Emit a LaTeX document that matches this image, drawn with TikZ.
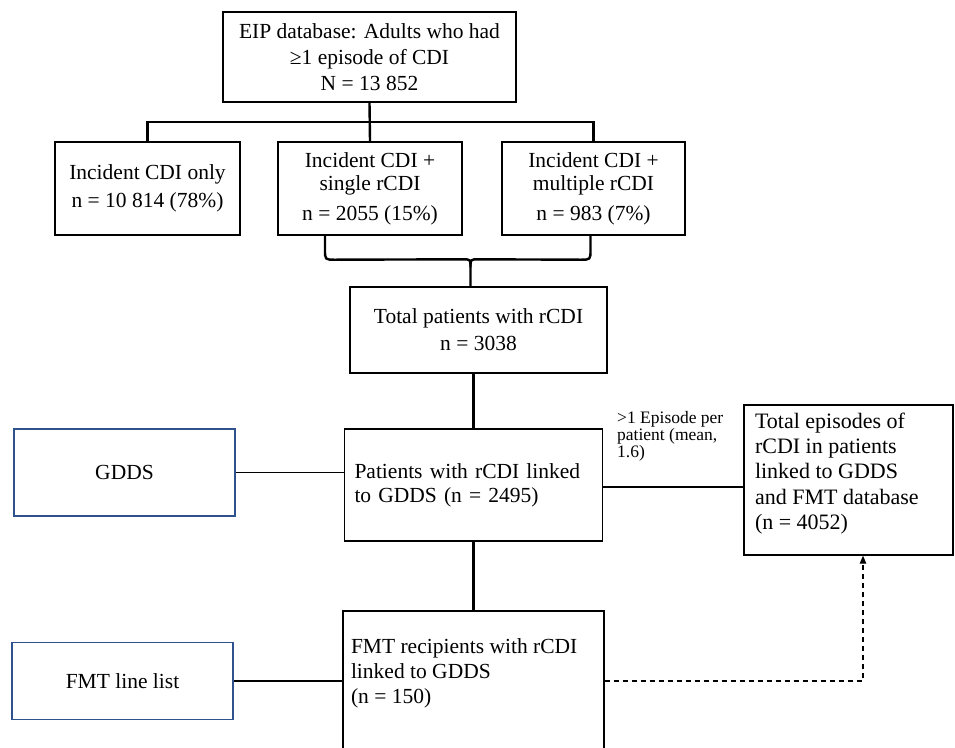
\documentclass[tikz,border=0pt]{standalone}
\usepackage{fontspec}
\setmainfont{Liberation Serif}
\usetikzlibrary{arrows.meta,calc}
\definecolor{srcblue}{RGB}{47,82,143}
\begin{document}
\begin{tikzpicture}[x=1pt,y=-1pt,
        box/.style={draw,line width=1.4pt,inner sep=0pt,align=center,font=\fontsize{21.5}{25}\selectfont},
        srcbox/.style={box,draw=srcblue,line width=1.1pt},
        link/.style={line width=2.4pt},
        thinlink/.style={line width=1.2pt}]
    \useasboundingbox (0,0) rectangle (955,747);
    \node [box,minimum width=293pt,minimum height=90pt,font=\fontsize{21.5}{26}\selectfont] (eip) at (369.5,57) {EIP database: Adults who had\\≥1 episode of CDI\\N = 13 852};
    \node [box,minimum width=185pt,minimum height=93pt,font=\fontsize{21.5}{28}\selectfont] (inc) at (147.5,188.5) {Incident CDI only\\n = 10 814 (78\%)};
    \node [box,minimum width=184pt,minimum height=93pt,font=\fontsize{21.5}{23}\selectfont] (sgl) at (370,188.5) {Incident CDI +\\single rCDI\\[7pt]n = 2055 (15\%)};
    \node [box,minimum width=183pt,minimum height=93pt,font=\fontsize{21.5}{23}\selectfont] (mul) at (593.5,188.5) {Incident CDI +\\multiple rCDI\\[7pt]n = 983 (7\%)};
    \node [box,minimum width=257pt,minimum height=86pt,font=\fontsize{21.5}{27}\selectfont] (tot) at (478.5,330) {Total patients with rCDI\\n = 3038};
    \node [srcbox,minimum width=221pt,minimum height=87pt] (gdds) at (124.5,472.5) {GDDS};
    \node [box,minimum width=258pt,minimum height=112pt,align=left,text width=238pt,inner xsep=10pt,font=\fontsize{21.5}{24}\selectfont] (pat) at (473.5,485) {Patients with rCDI linked\\to GDDS (n = 2495)};
    \node [box,minimum width=209pt,minimum height=150pt] (epi) at (848.5,480) {\parbox[c][150pt][t]{187pt}{\raggedright\fontsize{22}{25.2}\selectfont\vspace*{8pt}Total episodes of\\rCDI in patients\\linked to GDDS\\and FMT database\\(n = 4052)}};
    \node [srcbox,minimum width=221pt,minimum height=77pt] (fmtl) at (122.5,681) {FMT line list};
    \node [box,minimum width=261pt,minimum height=180pt] (fmt) at (473.5,701) {\parbox[c][180pt][t]{245pt}{\raggedright\fontsize{21.5}{25}\selectfont\vspace*{28pt}FMT recipients with rCDI\\linked to GDDS\\(n = 150)}};
    \node [anchor=north west,align=left,inner sep=0pt,font=\fontsize{17.5}{17}\selectfont] (perpt) at (617,411) {>1 Episode per\\patient (mean,\\1.6)};
    % split below the database box
    \coordinate (split) at ($(eip.south)!0.5!(sgl.north)$);
    \draw [link] (eip.south) -- (sgl.north);
    \draw [link] (inc.north) |- (split) -| (mul.north);
    % brace into the total
    \coordinate (tip) at ([xshift=-8pt]tot.north);
    \draw [link] ([xshift=-45pt]sgl.south) -- ++(0,14) .. controls +(0,10) and +(-10,0) .. ++(10,10) -- ($(tip)+(-8,-27)$) .. controls +(8,0) and +(0,-8) .. ($(tip)+(0,-19)$) -- (tip);
    \draw [link] ([xshift=-3pt]mul.south) -- ++(0,14) .. controls +(0,10) and +(10,0) .. ++(-10,10) -- ($(tip)+(8,-27)$) .. controls +(-8,0) and +(0,-8) .. ($(tip)+(0,-19)$);
    \draw [link] (pat.north |- tot.south) -- (pat.north);
    \draw [link] (pat.south) -- (fmt.north);
    \draw [link] (pat.east |- 0,487) -- (epi.west |- 0,487);
    \draw [thinlink] (gdds.east) -- (gdds.east -| pat.west);
    \draw [thinlink] (fmtl.east) -- (fmtl.east -| fmt.west);
    \draw [thinlink,dash pattern=on 5pt off 4pt,-{Triangle[length=8pt,width=6.5pt]}] (fmtl.east -| fmt.east) -| ([xshift=14.5pt]epi.south);
\end{tikzpicture}
\end{document}
